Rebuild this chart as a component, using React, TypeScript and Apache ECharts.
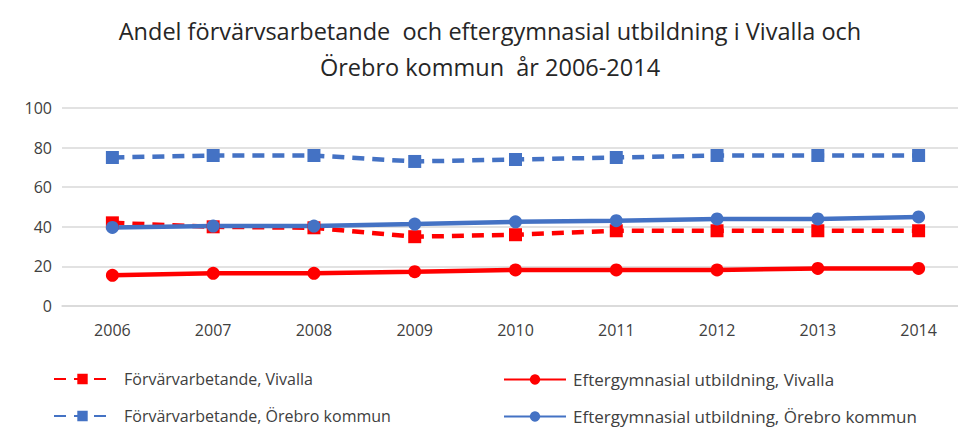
import React, { useEffect, useRef } from "react";
import * as echarts from "echarts";

const years = ["2006", "2007", "2008", "2009", "2010", "2011", "2012", "2013", "2014"];
const forvVivalla = [42, 40, 39.5, 35, 36, 38, 38, 38, 38];
const eftVivalla = [15.5, 16.5, 16.5, 17.3, 18.2, 18.2, 18.2, 19, 19];
const forvOrebro = [75, 76, 76, 73, 74, 75, 76, 76, 76];
const eftOrebro = [39.7, 40.4, 40.4, 41.4, 42.5, 43.1, 44, 44, 45];

const RED = "#FF0000";
const BLUE = "#4472C4";
const FONT = "'Liberation Sans Narrow', 'Open Sans', sans-serif";

export default function App() {
  const ref = useRef<HTMLDivElement>(null);
  useEffect(() => {
    document.body.style.margin = "0";
    if (!ref.current) return;
    const chart = echarts.init(ref.current, undefined, { renderer: "svg" });
    const dashed = (name: string, data: number[], color: string) => ({
      name,
      type: "line",
      data,
      symbol: "rect",
      symbolSize: 13,
      lineStyle: { color, width: 4.5, type: [12, 8] },
      itemStyle: { color },
    });
    const solid = (name: string, data: number[], color: string) => ({
      name,
      type: "line",
      data,
      symbol: "circle",
      symbolSize: 13,
      lineStyle: { color, width: 4.5 },
      itemStyle: { color },
    });
    const legendBase = {
      itemHeight: 13,
      itemGap: 10,
      padding: 0,
    };
    const txt = (size: number, pad: number) => ({
      fontFamily: FONT,
      fontSize: size,
      lineHeight: size,
      color: "#404040",
      padding: [0, 0, 0, pad],
    });
    chart.setOption({
      animation: false,
      title: {
        text: "Andel förvärvsarbetande  och eftergymnasial utbildning i Vivalla och\nÖrebro kommun  år 2006-2014",
        left: 490,
        textAlign: "center",
        top: 13,
        padding: 0,
        textStyle: { fontFamily: FONT, fontSize: 23.5, fontWeight: "normal", color: "#262626", lineHeight: 36 },
      },
      legend: [
        { ...legendBase, itemWidth: 57, left: 53, top: 371, textStyle: txt(16, 8), data: ["Förvärvarbetande, Vivalla"] },
        { ...legendBase, itemWidth: 62, left: 503, top: 371, textStyle: txt(17, 2), data: ["Eftergymnasial utbildning, Vivalla"] },
        { ...legendBase, itemWidth: 57, left: 53, top: 408, textStyle: txt(16, 8), data: ["Förvärvarbetande, Örebro kommun"] },
        { ...legendBase, itemWidth: 62, left: 503, top: 408, textStyle: txt(17, 2), data: ["Eftergymnasial utbildning, Örebro kommun"] },
      ],
      grid: { left: 62, top: 108, width: 907, height: 198, outerBoundsMode: "none", containLabel: false },
      xAxis: {
        type: "category",
        data: years,
        axisLine: { lineStyle: { color: "#D9D9D9", width: 1.5 } },
        axisTick: { show: false },
        axisLabel: { fontFamily: FONT, fontSize: 16, color: "#404040", margin: 16 },
      },
      yAxis: {
        type: "value",
        min: 0,
        max: 100,
        interval: 20,
        splitLine: { lineStyle: { color: "#D9D9D9", width: 1.5 } },
        axisLabel: { fontFamily: FONT, fontSize: 16, color: "#404040", margin: 10 },
      },
      series: [
        dashed("Förvärvarbetande, Vivalla", forvVivalla, RED),
        solid("Eftergymnasial utbildning, Vivalla", eftVivalla, RED),
        dashed("Förvärvarbetande, Örebro kommun", forvOrebro, BLUE),
        solid("Eftergymnasial utbildning, Örebro kommun", eftOrebro, BLUE),
      ],
    });
    return () => chart.dispose();
  }, []);
  return <div ref={ref} style={{ width: 958, height: 428 }} />;
}
